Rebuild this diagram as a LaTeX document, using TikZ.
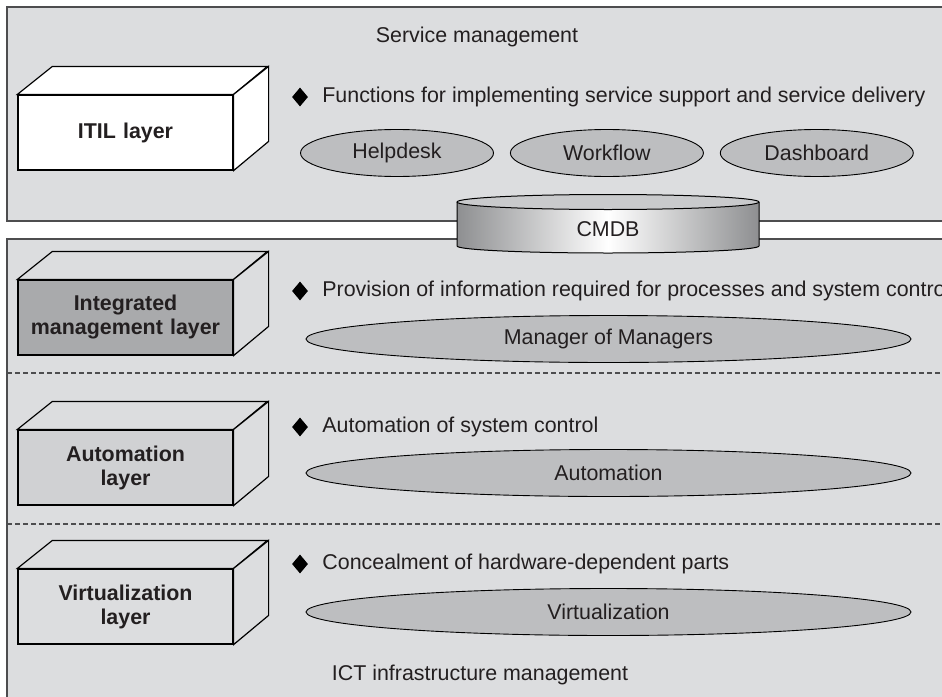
\documentclass[tikz,border=0pt]{standalone}
\usepackage{fontspec}
\setmainfont{Liberation Sans}
\usetikzlibrary{positioning}
\usetikzlibrary{shapes.geometric}

\definecolor{panelgray}{HTML}{DCDDDF}
\definecolor{ovalgray}{HTML}{BDBEC0}
\definecolor{darkfront}{HTML}{A9AAAC}
\definecolor{midfront}{HTML}{D0D1D3}
\definecolor{rimgray}{HTML}{4D4D4F}
\definecolor{inkgray}{HTML}{231F20}
\definecolor{drumgray}{HTML}{8E8F91}
\definecolor{lidgray}{HTML}{C9CACC}

\begin{document}
\begin{tikzpicture}[x=1pt, y=-1pt, node distance=16pt and 16pt, text=inkgray, font=\fontsize{21.4}{24}\selectfont, layer/.style={draw=black, line width=1.2pt, minimum width=215pt, minimum height=75pt, text width=205pt, align=center, inner sep=0pt, font=\fontsize{21.4}{24}\selectfont\bfseries}]
\tikzstyle{panel}=[draw=rimgray, line width=1.6pt, fill=panelgray]
\tikzstyle{split}=[draw=rimgray, line width=1.3pt, dash pattern=on 5pt off 3pt]
\tikzstyle{oval}=[ellipse, draw=black, line width=0.9pt, fill=ovalgray, inner sep=0pt, minimum height=47pt]
\tikzstyle{bullet}=[diamond, fill=black, inner sep=0pt, minimum width=16pt, minimum height=19pt]
\tikzstyle{texto}=[inner sep=0pt]

\clip (0,0) rectangle (942,696);

% fondos
\draw [panel] (7,7) rectangle (960,221);
\draw [panel] (7,239) rectangle (960,720);
\draw [split] (7,373) -- (960,373);
\draw [split] (7,524) -- (960,524);

% capas
\node (itil) [layer, fill=white] at (125.5,132.5) {ITIL layer};
\node (integ) [layer, fill=darkfront] at (125.5,317.5) {Integrated\\management layer};
\node (auto) [layer, fill=midfront] at (125.5,467.5) {Automation\\layer};
\node (virt) [layer, fill=panelgray] at (125.5,606.5) {Virtualization\\layer};

\foreach \b/\c in {itil/white, integ/panelgray, auto/panelgray, virt/panelgray} {
  \draw [line width=1.2pt, fill=\c] (\b.north west) -- ++(35,-28) -- ++(215,0) -- (\b.north east) -- cycle;
  \draw [line width=1.2pt, fill=\c] (\b.north east) -- ++(35,-28) -- ++(0,75) -- (\b.south east) -- cycle;
}

% textos
\node (svcmgmt) [texto] at (477,37) {Service management};
\node (ictmgmt) [texto] at (480,675) {ICT infrastructure management};

\node (dia1) [bullet] at (300,97) {};
\node (dia2) [bullet] at (300,291) {};
\node (dia3) [bullet] at (300,427) {};
\node (dia4) [bullet] at (300,564) {};
\node (dsc1) [texto, right=14pt of dia1] {Functions for implementing service support and service delivery};
\node (dsc2) [texto, right=14pt of dia2] {Provision of information required for processes and system control};
\node (dsc3) [texto, right=14pt of dia3] {Automation of system control};
\node (dsc4) [texto, right=14pt of dia4] {Concealment of hardware-dependent parts};

% funciones
\node (helpdesk) [oval, minimum width=193pt] at (397,153) {Helpdesk};
\node (workflow) [oval, minimum width=193pt, right=of helpdesk] {Workflow};
\node (dashboard) [oval, minimum width=193pt, right=of workflow] {Dashboard};
\node (mom) [oval, minimum width=605pt] at (608.5,339) {Manager of Managers};
\node (automation) [oval, minimum width=605pt] at (608.5,473) {Automation};
\node (virtualization) [oval, minimum width=605pt] at (608.5,612) {Virtualization};

% CMDB
\shade [left color=drumgray, right color=drumgray, middle color=white] (457,202) -- (457,246) arc[start angle=180, end angle=0, x radius=151, y radius=7] -- (759,202) -- cycle;
\draw [line width=1pt] (457,202) -- (457,246) arc[start angle=180, end angle=0, x radius=151, y radius=7] -- (759,202);
\draw [line width=1pt, fill=lidgray] (608,202) ellipse [x radius=151, y radius=7.5];
\node (cmdb) [texto] at (608,229) {CMDB};
\end{tikzpicture}
\end{document}
